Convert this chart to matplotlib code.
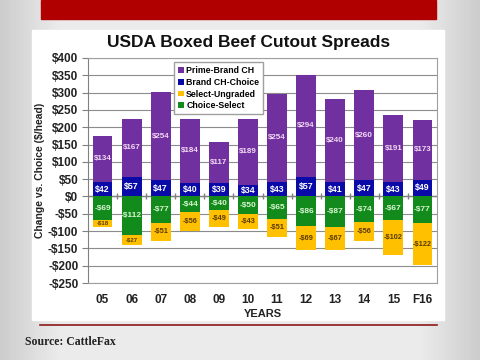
import numpy as np
import matplotlib
matplotlib.use('Agg')
import matplotlib.pyplot as plt
from matplotlib.patches import Rectangle

plt.rcParams['font.family'] = ['Liberation Sans', 'DejaVu Sans']

# data
years = ['05', '06', '07', '08', '09', '10', '11', '12', '13', '14', '15', 'F16']
brand_choice = [42, 57, 47, 40, 39, 34, 43, 57, 41, 47, 43, 49]
prime_brand = [134, 167, 254, 184, 117, 189, 254, 294, 240, 260, 191, 173]
choice_select = [-69, -112, -77, -44, -40, -50, -65, -86, -87, -74, -67, -77]
select_ungraded = [-18, -27, -51, -56, -49, -43, -51, -69, -67, -56, -102, -122]

purple = '#7030a0'
blue = '#0a0aa8'
yellow = '#ffc000'
green = '#138a1c'

fig = plt.figure(figsize=(4.8, 3.6), dpi=100)

# slide background
bg = fig.add_axes([0, 0, 1, 1])
grad = np.concatenate([np.linspace(0.80, 0.92, 60), np.full(360, 0.92), np.linspace(0.92, 0.80, 60)])
bg.imshow(np.tile(grad, (10, 1)), cmap='gray', vmin=0, vmax=1, aspect='auto', extent=[0, 1, 0, 1])
bg.set_xlim(0, 1)
bg.set_ylim(0, 1)
bg.axis('off')
bg.add_patch(Rectangle((41 / 480, 1 - 19 / 360), 395 / 480, 19 / 360, color='#b00000'))
bg.add_patch(Rectangle((32 / 480, 1 - 320 / 360), 412 / 480, 290 / 360, color='white'))
bg.plot([40 / 480, 437 / 480], [1 - 325 / 360] * 2, color='#8b1a1a', lw=1.2)
bg.text(25 / 480, 1 - 342 / 360, 'Source: CattleFax', family='Liberation Serif',
        fontweight='bold', fontsize=8.5, va='center', color='#222222')

ax = fig.add_axes([88 / 480, 1 - 283 / 360, 349 / 480, 225 / 360])
x = np.arange(len(years))
w = 0.68
ax.bar(x, choice_select, w, color=green, label='Choice-Select', zorder=3)
ax.bar(x, select_ungraded, w, bottom=choice_select, color=yellow, label='Select-Ungraded', zorder=3)
ax.bar(x, brand_choice, w, color=blue, label='Brand CH-Choice', zorder=3)
ax.bar(x, prime_brand, w, bottom=brand_choice, color=purple, label='Prime-Brand CH', zorder=3)

lab = dict(ha='center', va='center', fontweight='bold', zorder=4)
for i in range(len(years)):
    ax.text(x[i], brand_choice[i] / 2, '$%d' % brand_choice[i], color='white', fontsize=6.3, **lab)
    ax.text(x[i], brand_choice[i] + prime_brand[i] / 2, '$%d' % prime_brand[i],
            color='#f3d9f3', fontsize=5.8, **lab)
    ax.text(x[i], choice_select[i] / 2, '-$%d' % -choice_select[i], color='#d8f5d0', fontsize=6, **lab)
    ax.text(x[i], choice_select[i] + select_ungraded[i] / 2, '-$%d' % -select_ungraded[i],
            color='#5a3a00', fontsize=4.3 if -select_ungraded[i] < 30 else 5.3, **lab)

ax.axhline(0, color='#808080', lw=1, zorder=2)
ax.plot(x[1:] - 0.5, np.zeros(len(x) - 1), '|', color='#808080', ms=5, mew=1, zorder=2)

ax.set_ylim(-250, 400)
ax.set_xlim(-0.5, len(years) - 0.5)
ax.set_yticks(range(-250, 401, 50))
ax.set_yticklabels([('-$%d' % -v) if v < 0 else '$%d' % v for v in range(-250, 401, 50)])
ax.grid(axis='y', color='#8c8c8c', lw=0.8, zorder=0)
ax.set_xticks(x)
ax.set_xticklabels(years)
ax.tick_params(axis='x', length=0, pad=8)
ax.tick_params(axis='y', length=4, color='#808080', direction='out', pad=3)
for t in ax.get_xticklabels() + ax.get_yticklabels():
    t.set_fontweight('bold')
    t.set_fontsize(8.5)
    t.set_color('#222222')
for s in ax.spines.values():
    s.set_color('#a0a0a0')
ax.spines['left'].set_color('#808080')

ax.set_xlabel('YEARS', fontweight='bold', fontsize=8, labelpad=2, color='#222222')
ax.set_ylabel('Change vs. Choice ($/head)', fontweight='bold', fontsize=7.5, labelpad=2, color='#222222')
fig.text(249 / 480, 1 - 42 / 360, 'USDA Boxed Beef Cutout Spreads', ha='center', va='center',
         fontweight='bold', fontsize=12.5, color='#111111')

h, l = ax.get_legend_handles_labels()
order = [3, 2, 1, 0]
leg = ax.legend([h[i] for i in order], [l[i] for i in order], loc='upper left',
                bbox_to_anchor=(0.235, 1.0), fontsize=6.3, handlelength=0.6, handleheight=0.6,
                handletextpad=0.3, labelspacing=0.3, borderpad=0.45, fancybox=False,
                framealpha=1, edgecolor='#a0a0a0')
for t in leg.get_texts():
    t.set_fontweight('bold')
leg.set_zorder(5)

fig.savefig('out.png', dpi=100)
